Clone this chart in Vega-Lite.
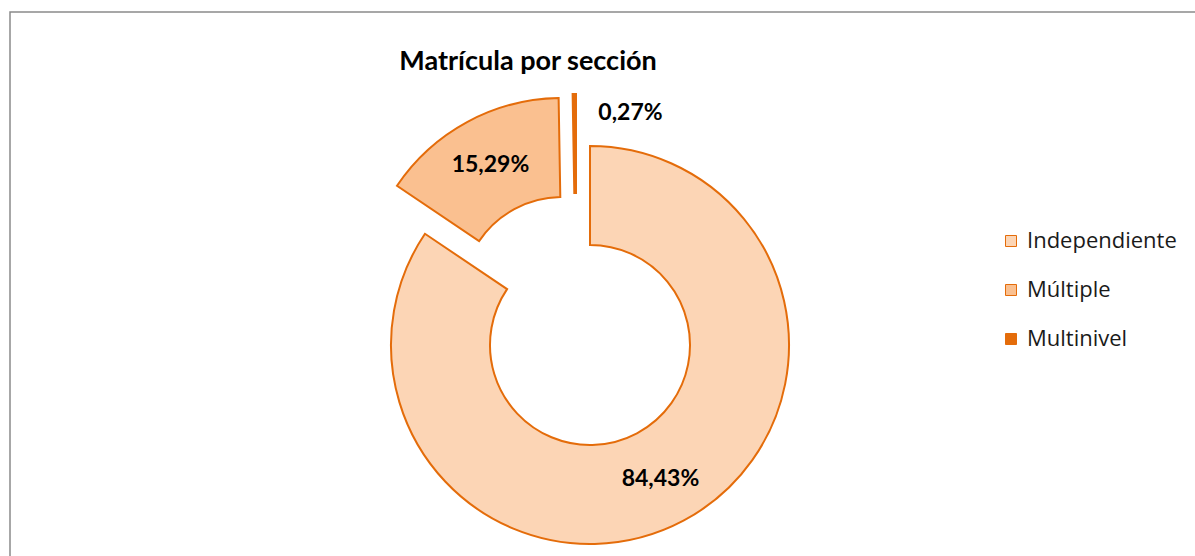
{
  "$schema": "https://vega.github.io/schema/vega-lite/v6.json",
  "autosize": "none",
  "width": 1188,
  "height": 547,
  "padding": {"left": 10, "top": 12, "right": -3, "bottom": -3},
  "background": "white",
  "view": {"stroke": "#8a8a8a", "strokeWidth": 1.5, "fill": "white"},
  "title": {
    "text": "Matrícula por sección",
    "anchor": "middle",
    "frame": "group",
    "orient": "top",
    "offset": 0,
    "baseline": "alphabetic",
    "dx": -76,
    "dy": 85,
    "font": "Lato",
    "fontSize": 27,
    "fontWeight": "bold",
    "color": "#000000"
  },
  "config": {
    "view": {"stroke": "#8a8a8a", "strokeWidth": 1.5},
    "font": "Lato"
  },
  "data": {
    "values": [
      {"cat": "Independiente", "pct": 84.43, "label": "84,43%"},
      {"cat": "Múltiple", "pct": 15.29, "label": "15,29%"},
      {"cat": "Multinivel", "pct": 0.27, "label": "0,27%"}
    ]
  },
  "encoding": {
    "theta": {"field": "pct", "type": "quantitative", "stack": true},
    "order": {"field": "pct", "type": "quantitative", "sort": "descending"}
  },
  "layer": [
    {
      "mark": {"type": "arc", "outerRadius": 199, "innerRadius": 100, "stroke": "#E46C0A", "strokeWidth": 2, "xOffset": -14, "yOffset": 59.5},
      "encoding": {
        "color": {
          "field": "cat", "type": "nominal",
          "scale": {"domain": ["Independiente", "Múltiple", "Multinivel"], "range": ["#FCD5B5", "#FAC090", "#E46C0A"]},
          "legend": {
            "title": null,
            "orient": "none",
            "legendX": 990,
            "legendY": 218,
            "symbolType": "square",
            "symbolSize": 121,
            "symbolStrokeColor": "#E46C0A",
            "symbolStrokeWidth": 1,
            "labelFont": "Open Sans",
            "labelFontSize": 22,
            "labelColor": "#1a1a1a",
            "labelOffset": 5,
            "rowPadding": 27,
            "padding": 0
          }
        },
        "opacity": {"condition": {"test": "datum.cat === 'Independiente'", "value": 1}, "value": 0}
      }
    },
    {
      "mark": {"type": "arc", "outerRadius": 199, "innerRadius": 100, "stroke": "#E46C0A", "strokeWidth": 2, "xOffset": -42, "yOffset": 11.5},
      "encoding": {
        "color": {"field": "cat", "type": "nominal"},
        "opacity": {"condition": {"test": "datum.cat === 'Múltiple'", "value": 1}, "value": 0}
      }
    },
    {
      "mark": {"type": "arc", "outerRadius": 199, "innerRadius": 100, "stroke": "#E46C0A", "strokeWidth": 2, "xOffset": -28, "yOffset": 7.5},
      "encoding": {
        "color": {"field": "cat", "type": "nominal"},
        "opacity": {"condition": {"test": "datum.cat === 'Multinivel'", "value": 1}, "value": 0}
      }
    },
    {
      "mark": {"type": "text", "radius": 150, "xOffset": -14, "yOffset": 61, "font": "Lato", "fontSize": 23, "fontWeight": "bold", "align": "center", "baseline": "middle", "color": "#000000"},
      "encoding": {
        "text": {"field": "label"},
        "opacity": {"condition": {"test": "datum.cat === 'Independiente'", "value": 1}, "value": 0}
      }
    },
    {
      "mark": {"type": "text", "radius": 150, "xOffset": -42, "yOffset": 11.5, "font": "Lato", "fontSize": 23, "fontWeight": "bold", "align": "center", "baseline": "middle", "color": "#000000"},
      "encoding": {
        "text": {"field": "label"},
        "opacity": {"condition": {"test": "datum.cat === 'Múltiple'", "value": 1}, "value": 0}
      }
    },
    {
      "mark": {"type": "text", "radius": 180, "xOffset": -28, "yOffset": 7.5, "dx": 56, "font": "Lato", "fontSize": 23, "fontWeight": "bold", "align": "center", "baseline": "middle", "color": "#000000"},
      "encoding": {
        "text": {"field": "label"},
        "opacity": {"condition": {"test": "datum.cat === 'Multinivel'", "value": 1}, "value": 0}
      }
    }
  ]
}
